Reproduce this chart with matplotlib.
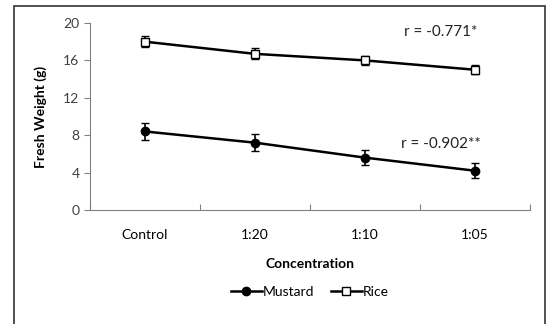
import matplotlib.pyplot as plt
import numpy as np
from matplotlib.patches import Rectangle
from matplotlib.lines import Line2D

plt.rcParams['font.family'] = ['Lato', 'DejaVu Sans']

categories = ["Control", "1:20", "1:10", "1:05"]
mustard = [8.4, 7.2, 5.6, 4.2]
mustard_err = [0.9, 0.9, 0.8, 0.8]
rice = [18.0, 16.7, 16.0, 15.0]
rice_err = [0.6, 0.6, 0.5, 0.5]

fig = plt.figure(figsize=(5.5, 3.24), dpi=100)
ax = fig.add_axes([90/550, 1-210/324, 440/550, 187/324])

x = np.arange(len(categories)) + 0.5
ax.errorbar(x, mustard, yerr=mustard_err, color="black", marker="o", ms=6,
            lw=1.8, capsize=3, elinewidth=1.2)
ax.errorbar(x, rice, yerr=rice_err, color="black", marker="s", ms=5.5, mfc="white",
            mew=1, lw=1.8, capsize=3, elinewidth=1.2)

ax.set_xlim(0, 4)
ax.set_ylim(0, 20)
ax.set_yticks(range(0, 21, 4))
ax.set_xticks(range(5))
ax.set_xticklabels([])
ax.set_xticks(x, minor=True)
ax.set_xticklabels(categories, minor=True)
ax.tick_params(axis="x", which="minor", length=0, pad=14)
ax.tick_params(axis="x", which="major", length=4, direction="in", color="#808080")
ax.tick_params(axis="y", length=4, direction="out", color="#808080")
ax.tick_params(labelsize=10, labelcolor="#404040")
for s in ["top", "right"]:
    ax.spines[s].set_visible(False)
for s in ["left", "bottom"]:
    ax.spines[s].set_color("#808080")

ax.set_xlabel("Concentration", fontsize=10, fontweight="bold", labelpad=12)
ax.set_ylabel("Fresh Weight (g)", fontsize=10, fontweight="bold", labelpad=12)

ax.text(3.52, 19.0, "r = -0.771*", fontsize=11, ha="right", va="center", color="#222222")
ax.text(3.55, 7.1, "r = -0.902**", fontsize=11, ha="right", va="center", color="#222222")

handles = [
    Line2D([], [], color="black", marker="o", ms=6, lw=1.8),
    Line2D([], [], color="black", marker="s", ms=5.5, mfc="white", mew=1, lw=1.8),
]
fig.legend(handles, ["Mustard", "Rice"], loc="center", bbox_to_anchor=(310/550, 1-292/324),
           ncol=2, frameon=False, fontsize=10, handlelength=2.2, handletextpad=0.1,
           columnspacing=1.2)

fig.add_artist(Rectangle((14/550, -0.05), 531/550, 1.05 - 6/324, transform=fig.transFigure,
                         fill=False, edgecolor="#333333", lw=1.2, clip_on=False))

fig.savefig("out.png", dpi=100)
